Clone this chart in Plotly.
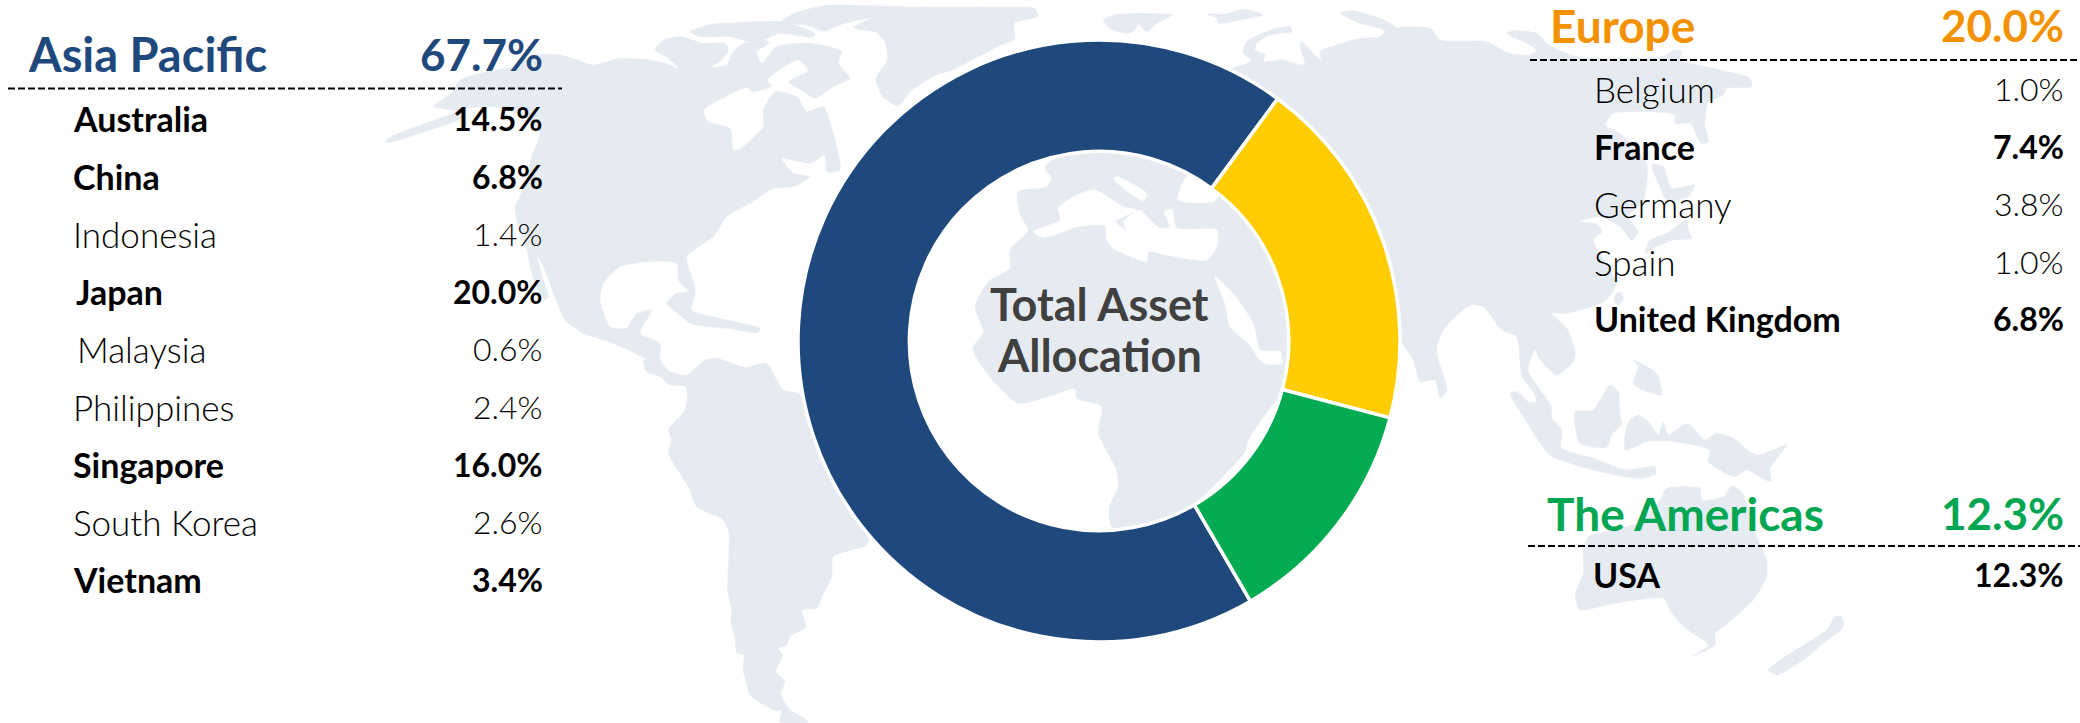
import plotly.graph_objects as go

# ---------- data ----------
asia_names = ["Australia", "China", "Indonesia", "Japan", "Malaysia", "Philippines", "Singapore", "South Korea", "Vietnam"]
asia_values = ["14.5%", "6.8%", "1.4%", "20.0%", "0.6%", "2.4%", "16.0%", "2.6%", "3.4%"]
asia_bold = [1, 1, 0, 1, 0, 0, 1, 0, 1]
europe_names = ["Belgium", "France", "Germany", "Spain", "United Kingdom"]
europe_values = ["1.0%", "7.4%", "3.8%", "1.0%", "6.8%"]
europe_bold = [0, 1, 0, 0, 1]
americas_names = ["USA"]
americas_values = ["12.3%"]
americas_bold = [1]
regions = ["Asia Pacific", "Europe", "The Americas"]
region_totals = ["67.7%", "20.0%", "12.3%"]
donut_shares = [68.5, 19.0, 12.5]   # slice sizes as drawn in the picture
donut_colors = ["#1F497D", "#FFCC00", "#05AB52"]
region_colors = ["#1F497D", "#F39200", "#00A651"]
center_lines = ["Total Asset", "Allocation"]

LAND = "#E6EBF2"
FONT = "Lato"
W, H = 2080, 723


def z(ox, oy, pts, sx=3.0, sy=3.0):
    return [(ox + a / sx, oy + b / sy) for a, b in pts]


# ---------- decorative world map outlines (pixel space) ----------
americas = (
    z(380, 0, [(240, 330), (250, 352), (150, 390), (50, 422), (15, 428), (30, 412), (170, 358), (230, 335), (160, 318),
               (215, 280), (240, 240), (320, 215), (400, 200), (470, 165), (540, 165), (590, 180), (640, 195), (720, 175),
               (790, 178), (850, 188), (895, 205), (865, 175), (825, 150), (855, 118), (905, 110), (970, 130), (1035, 130),
               (1045, 150), (1025, 180), (990, 203), (1040, 195), (1060, 155), (1090, 130), (1160, 122), (1168, 130),
               (1130, 155), (1145, 190), (1190, 140), (1290, 130), (1385, 155), (1375, 190), (1410, 235), (1360, 260),
               (1305, 295), (1265, 270), (1225, 245), (1285, 212), (1255, 180), (1190, 215), (1160, 240), (1175, 258),
               (1120, 275), (1100, 262), (1000, 310), (970, 330), (985, 365), (1050, 385), (1060, 450), (1075, 450),
               (1150, 380), (1150, 330), (1185, 275), (1250, 290), (1280, 335), (1330, 320), (1365, 420), (1380, 510),
               (1340, 515), (1335, 465), (1290, 490), (1205, 475), (1240, 520), (1290, 530), (1240, 560), (1180, 565),
               (1110, 610), (1040, 650), (1000, 710), (920, 770), (945, 860), (945, 885), (935, 930), (1040, 960),
               (1140, 985), (1135, 998), (1040, 985), (935, 972), (900, 945), (860, 910), (890, 880), (925, 875),
               (895, 840), (890, 790), (800, 785), (720, 800), (670, 850), (660, 900), (690, 980), (740, 985), (770, 940),
               (815, 930), (780, 1000), (840, 1030)])
    + z(560, 360, [(300, 0), (330, 35), (380, 45), (435, 0), (470, -5), (555, 22), (620, 10), (650, 60), (670, 90),
                   (722, 105), (800, 300), (925, 535), (920, 555), (820, 590), (815, 650), (790, 700), (770, 745),
                   (725, 750), (738, 800), (690, 830), (680, 855), (655, 865), (668, 885), (648, 935), (675, 965),
                   (662, 1000), (685, 1045), (745, 1085), (660, 1085), (665, 1050), (645, 1052), (570, 1005), (555, 950),
                   (548, 930), (552, 885), (530, 878), (525, 830), (512, 790), (515, 750), (503, 690), (507, 520),
                   (490, 480), (410, 440), (385, 380), (325, 280), (335, 240), (325, 210), (375, 150), (378, 80),
                   (330, 75), (300, 50), (258, 35), (250, 0)])
    + z(380, 0, [(800, 1078), (700, 1030), (610, 1000), (555, 960), (525, 890), (490, 800), (470, 765), (490, 840),
                 (505, 890), (495, 900), (470, 860), (450, 800), (440, 745), (415, 680), (405, 620), (415, 600),
                 (440, 540), (455, 470), (480, 395), (430, 350), (340, 320)])
)
arctic_strip = z(380, 0, [(930, 95), (1000, 72), (1060, 68), (1200, 65), (1305, 100), (1300, 112), (1200, 100), (1130, 128), (1050, 110), (960, 110)])
greenland = z(780, 0, [(0, 50), (30, 30), (100, 12), (300, 15), (510, 15), (570, 18), (578, 35), (525, 50), (525, 85),
                       (490, 100), (390, 150), (345, 165), (290, 200), (265, 230), (230, 210), (215, 170), (240, 130),
                       (235, 90), (215, 70), (165, 60), (205, 38), (130, 55), (100, 68), (60, 55)], 2.24, 2.169)
iceland = z(880, 0, [(670, 60), (700, 45), (780, 40), (875, 45), (830, 70), (800, 95), (775, 72), (760, 95), (735, 100), (690, 85)])
svalbard = z(880, 0, [(980, 42), (1040, 42), (1090, 28), (1150, 45), (1080, 60), (1015, 70), (1010, 55)])
novaya = z(880, 0, [(1380, 38), (1420, 32), (1500, 55), (1545, 80), (1530, 100), (1500, 85), (1440, 70)])
eurasia_africa = (
    z(920, 150, [(575, 1130), (568, 1070), (595, 1010), (590, 960), (535, 850), (545, 770), (470, 745), (465, 715),
                 (400, 735), (295, 760), (205, 675), (158, 595), (190, 545), (165, 470), (205, 395), (270, 355), (270, 300),
                 (325, 240), (300, 195), (295, 125), (380, 110), (395, 85), (375, 50)])
    + z(880, 0, [(1060, 205), (1100, 190), (1115, 180), (1090, 160), (1100, 125), (1170, 90), (1230, 80), (1235, 95),
                 (1170, 105), (1130, 130), (1125, 150), (1155, 165), (1150, 185), (1210, 180), (1260, 195), (1275, 190),
                 (1260, 140), (1265, 125), (1310, 170), (1350, 210), (1345, 228), (1325, 232), (1330, 200), (1320, 155),
                 (1370, 135), (1440, 115), (1500, 110)])
    + z(1380, 0, [(30, 85), (150, 85), (180, 120), (320, 125), (385, 160), (450, 165), (470, 150), (430, 125), (380, 100),
                  (400, 92), (470, 100), (505, 135), (590, 170), (720, 175), (850, 170), (880, 150), (905, 155), (900, 180),
                  (1000, 205), (1110, 235), (1115, 260), (1040, 265), (1030, 285), (985, 305), (975, 375), (985, 425),
                  (965, 430), (930, 370), (885, 370), (885, 345), (800, 335), (700, 340), (675, 375), (720, 400), (800, 490),
                  (790, 600), (745, 650), (775, 695), (755, 720), (720, 680), (660, 650), (595, 665), (650, 672), (665, 695),
                  (640, 720), (690, 810), (710, 850), (680, 900), (620, 925), (560, 940), (515, 940), (560, 985), (585, 1050),
                  (580, 1085), (530, 1125), (480, 1080), (465, 1050), (450, 1080), (445, 1115), (470, 1155), (515, 1220),
                  (515, 1255), (545, 1290), (545, 1345), (640, 1375), (735, 1410), (825, 1400), (828, 1420), (790, 1435),
                  (730, 1430), (620, 1405), (510, 1365), (430, 1250), (390, 1180), (410, 1175), (445, 1205), (470, 1205),
                  (455, 1170), (425, 1130), (420, 1080), (410, 1010), (365, 990), (310, 920), (270, 915), (190, 990),
                  (170, 1040), (175, 1080), (195, 1140), (200, 1175), (180, 1192), (165, 1140), (120, 1145), (100, 1080),
                  (55, 1020), (18, 1018)])
    + z(920, 150, [(1080, 740), (985, 870), (975, 905), (825, 1060), (700, 1140)])
)
med_sea = z(920, 150, [(340, 245), (370, 262), (420, 250), (470, 230), (555, 228), (560, 270), (580, 295), (680, 335),
                       (685, 305), (740, 315), (860, 330), (890, 290), (890, 240), (770, 235), (755, 178), (733, 185),
                       (750, 230), (720, 235), (680, 200), (660, 180), (610, 215), (620, 240), (585, 215), (650, 180),
                       (610, 170), (525, 120), (470, 135), (415, 175), (420, 210)])
adriatic = z(920, 150, [(580, 85), (590, 80), (680, 130), (670, 152), (610, 115)])
black_sea = z(920, 150, [(800, 80), (775, 150), (880, 155), (905, 125), (880, 100)])
red_sea = z(920, 150, [(885, 380), (935, 425), (1000, 520), (1020, 600), (1080, 605), (1085, 640), (1030, 640), (985, 580), (930, 530), (915, 460)])
japan = z(1380, 0, [(795, 760), (810, 720), (860, 700), (920, 660), (925, 690), (935, 715), (880, 720), (820, 745)])
sakhalin = z(1380, 0, [(815, 495), (850, 500), (875, 565), (945, 555), (925, 590), (860, 600), (840, 560)])
taiwan = z(1380, 0, [(705, 885), (720, 875), (730, 895), (715, 915), (703, 905)])
philippines = z(1380, 360, [(760, 0), (830, 40), (845, 105), (790, 90), (760, 70), (775, 20)])
borneo = z(1380, 360, [(585, 155), (640, 150), (690, 75), (715, 95), (720, 165), (725, 190), (695, 225), (680, 262), (600, 250)])
new_guinea = z(1380, 360, [(735, 270), (745, 185), (775, 165), (805, 185), (835, 225), (850, 185), (865, 225), (910, 195),
                           (930, 195), (975, 240), (1010, 220), (1060, 235), (1110, 275), (1140, 285), (1220, 255),
                           (1170, 325), (1172, 365), (1100, 330), (1065, 350), (985, 305), (990, 270), (880, 245), (800, 245)])
australia = z(1380, 360, [(600, 750), (585, 705), (610, 640), (610, 565), (625, 530), (700, 510), (770, 490), (840, 420),
                          (860, 385), (960, 385), (965, 420), (1030, 410), (1055, 378), (1085, 395), (1130, 530), (1160, 600),
                          (1160, 650), (1120, 720), (1030, 800), (1005, 820), (1005, 855), (935, 890), (985, 855), (930, 815),
                          (900, 790), (870, 750), (850, 715), (700, 730)])
new_zealand = z(1380, 360, [(1165, 930), (1200, 900), (1280, 850), (1340, 810), (1365, 770), (1385, 770), (1390, 800), (1330, 850), (1270, 900), (1190, 945)])

land_shapes = [americas, arctic_strip, greenland, iceland, svalbard, novaya, eurasia_africa, japan, sakhalin, taiwan,
               philippines, borneo, new_guinea, australia, new_zealand]
water_shapes = [med_sea, adriatic, black_sea, red_sea]

fig = go.Figure()


def add_poly(pts, color):
    xs = [p[0] for p in pts] + [pts[0][0]]
    ys = [p[1] for p in pts] + [pts[0][1]]
    fig.add_trace(go.Scatter(x=xs, y=ys, mode="lines", fill="toself", fillcolor=color,
                             line=dict(color=color, width=0.5, shape="spline", smoothing=0.6),
                             hoverinfo="skip", showlegend=False))


for shp in land_shapes:
    add_poly(shp, LAND)
for shp in water_shapes:
    add_poly(shp, "#FFFFFF")

fig.add_trace(go.Pie(values=donut_shares, labels=regions, marker=dict(colors=donut_colors, line=dict(color="#FFFFFF", width=3.5)),
                     hole=0.63, sort=False, direction="clockwise", rotation=149.8, textinfo="none",
                     domain=dict(x=[798 / W, 1400 / W], y=[81 / H, 683 / H]), showlegend=False, hoverinfo="skip"))


def label(x, y, text, size, color="#000000", bold=False, anchor="left", family=FONT):
    # annotations carry a small inner padding; shift so glyph edges land on the given x
    shift = {"left": -3, "right": 4, "center": 0}[anchor]
    fig.add_annotation(x=x, y=y, xref="x", yref="y", text=text, showarrow=False, xanchor=anchor, yanchor="middle",
                       xshift=shift, font=dict(family=family, size=size, color=color, weight=700 if bold else 300))


def row(x, y, name, value, bold):
    label(x, y - 1.5, name, 34 if bold else 35, bold=bold)
    label(RIGHT, y - 1.5, value, 32, bold=bold, anchor="right")


RIGHT = 541
asia_y = [120, 177.5, 235, 293, 350, 408, 466, 523, 581]
asia_x = [74, 74, 74, 77, 78, 74, 74, 74, 74]
for n, v, b, x, y in zip(asia_names, asia_values, asia_bold, asia_x, asia_y):
    row(x, y, n, v, bool(b))
label(29, 54, regions[0], 47, region_colors[0], True)
label(541, 54, region_totals[0], 44, region_colors[0], True, "right")

RIGHT = 2062
eu_y = [90, 147.5, 205, 263, 320]
for n, v, b, y in zip(europe_names, europe_values, europe_bold, eu_y):
    row(1595, y, n, v, bool(b))
label(1551, 25, regions[1], 46, region_colors[1], True)
label(2062, 25, region_totals[1], 44, region_colors[1], True, "right")

for n, v, b in zip(americas_names, americas_values, americas_bold):
    row(1594, 576, n, v, bool(b))
label(1548, 513, regions[2], 46, region_colors[2], True)
label(2062, 513, region_totals[2], 44, region_colors[2], True, "right")

label(1099, 304, center_lines[0], 45, "#404040", True, "center")
label(1099, 355, center_lines[1], 45, "#404040", True, "center")

for x0, x1, y in [(8, 562, 88.5), (1530, 2080, 60), (1528, 2080, 546)]:
    fig.add_shape(type="line", x0=x0, x1=x1, y0=y, y1=y, xref="x", yref="y", line=dict(color="#000000", width=2, dash="7px,3px"))

fig.update_layout(width=W, height=H, margin=dict(l=0, r=0, t=0, b=0), paper_bgcolor="#FFFFFF", plot_bgcolor="rgba(0,0,0,0)",
                  showlegend=False,
                  xaxis=dict(range=[0, W], visible=False, fixedrange=True),
                  yaxis=dict(range=[H, 0], visible=False, fixedrange=True))
fig.write_html("out.html", post_script="document.body.style.margin='0';document.body.style.overflow='hidden';",
               config=dict(displayModeBar=False))
